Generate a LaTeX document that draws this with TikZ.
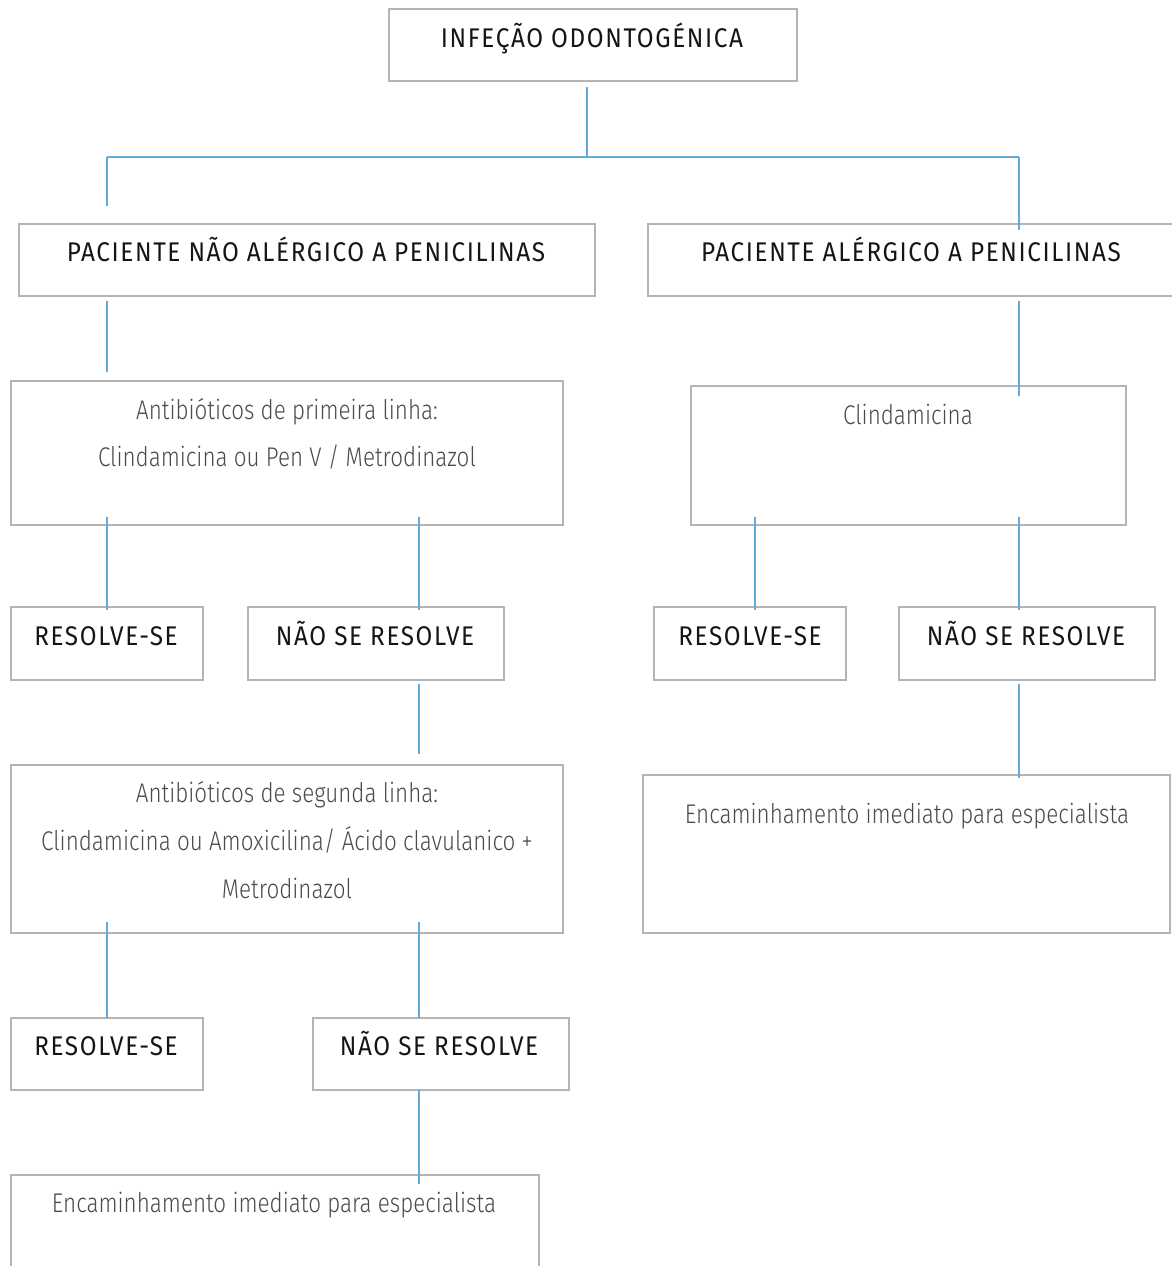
\documentclass[tikz,border=0pt]{standalone}
\usepackage{fontspec}
\newfontfamily\capf[FakeStretch=0.9,LetterSpace=6]{Fira Sans}
\newfontfamily\lightf[FakeStretch=0.83,UprightFont={* Light}]{Fira Sans}
\definecolor{boxgray}{HTML}{B4B4B4}
\definecolor{linkblue}{HTML}{62A9DC}
\definecolor{capcol}{HTML}{151515}
\definecolor{txtcol}{HTML}{4A4A4A}
\tikzset{
  x=1pt,y=-1pt,
  frame/.style={draw=boxgray,line width=2.2pt,rectangle,inner sep=0pt},
  captxt/.style={font=\capf\fontsize{27}{32}\selectfont,text=capcol,inner sep=0pt,anchor=base},
  lighttxt/.style={font=\lightf\fontsize{27}{32}\selectfont,text=txtcol,inner sep=0pt,anchor=base},
  link/.style={draw=linkblue,line width=2pt}
}
\newcommand{\mybox}[5]{\node[frame,minimum width={#4-#2},minimum height={#5-#3}] (#1) at ({(#2+#4)/2},{(#3+#5)/2}) {};}
\begin{document}
\begin{tikzpicture}
\useasboundingbox (0,0) rectangle (1172,1266);
\begin{scope}
\clip (0,0) rectangle (1172,1266);
% boxes
\mybox{top}{389}{9}{797}{81}
\mybox{lA}{19}{224}{595}{296}
\mybox{rA}{648}{224}{1190}{296}
\mybox{lB}{11}{381}{563}{525}
\mybox{rB}{691}{386}{1126}{525}
\mybox{lC1}{11}{607}{203}{680}
\mybox{lC2}{248}{607}{504}{680}
\mybox{rC1}{654}{607}{846}{680}
\mybox{rC2}{899}{607}{1155}{680}
\mybox{lD}{11}{765}{563}{933}
\mybox{rD}{643}{775}{1170}{933}
\mybox{lE1}{11}{1018}{203}{1090}
\mybox{lE2}{313}{1018}{569}{1090}
\mybox{lF}{11}{1175}{539}{1300}
\end{scope}
% texts (positions are baselines)
\node[captxt] (ttop) at (592,47) {INFEÇÃO ODONTOGÉNICA};
\node[captxt] (tlA) at (306,261) {PACIENTE NÃO ALÉRGICO A PENICILINAS};
\node[captxt] (trA) at (911,261) {PACIENTE ALÉRGICO A PENICILINAS};
\node[lighttxt] (tlB1) at (287,419) {Antibióticos de primeira linha:};
\node[lighttxt] (tlB2) at (287,466) {Clindamicina ou Pen V / Metrodinazol};
\node[lighttxt] (trB) at (908,424) {Clindamicina};
\node[captxt] (tlC1) at (106,645) {RESOLVE-SE};
\node[captxt] (tlC2) at (375,645) {NÃO SE RESOLVE};
\node[captxt] (trC1) at (750,645) {RESOLVE-SE};
\node[captxt] (trC2) at (1026,645) {NÃO SE RESOLVE};
\node[lighttxt] (tlD1) at (287,802) {Antibióticos de segunda linha:};
\node[lighttxt] (tlD2) at (287,850) {Clindamicina ou Amoxicilina/ Ácido clavulanico +};
\node[lighttxt] (tlD3) at (287,898) {Metrodinazol};
\node[lighttxt] (trD) at (907,823) {Encaminhamento imediato para especialista};
\node[captxt] (tlE1) at (106,1055) {RESOLVE-SE};
\node[captxt] (tlE2) at (439,1055) {NÃO SE RESOLVE};
\node[lighttxt] (tlF) at (274,1212) {Encaminhamento imediato para especialista};
% connector points
\coordinate (a0) at (587,87);
\coordinate (a1) at (587,157);
\coordinate (aL) at (107,157);
\coordinate (aR) at (1019,157);
\coordinate (aLe) at (107,206);
\coordinate (aRe) at (1019,230);
\coordinate (b0) at (107,301);
\coordinate (b1) at (107,372);
\coordinate (c0) at (1019,301);
\coordinate (c1) at (1019,396);
\coordinate (d0) at (107,517);
\coordinate (d1) at (107,610);
\coordinate (e0) at (419,517);
\coordinate (e1) at (419,610);
\coordinate (f0) at (755,517);
\coordinate (f1) at (755,610);
\coordinate (g0) at (1019,517);
\coordinate (g1) at (1019,610);
\coordinate (h0) at (419,684);
\coordinate (h1) at (419,754);
\coordinate (i0) at (1019,684);
\coordinate (i1) at (1019,778);
\coordinate (j0) at (107,922);
\coordinate (j1) at (107,1018);
\coordinate (k0) at (419,922);
\coordinate (k1) at (419,1018);
\coordinate (l0) at (419,1090);
\coordinate (l1) at (419,1184);
\draw[link] (a0) -- (a1);
\draw[link] (aL) -- (aR);
\draw[link] (aL) -- (aLe);
\draw[link] (aR) -- (aRe);
\draw[link] (b0) -- (b1);
\draw[link] (c0) -- (c1);
\draw[link] (d0) -- (d1);
\draw[link] (e0) -- (e1);
\draw[link] (f0) -- (f1);
\draw[link] (g0) -- (g1);
\draw[link] (h0) -- (h1);
\draw[link] (i0) -- (i1);
\draw[link] (j0) -- (j1);
\draw[link] (k0) -- (k1);
\draw[link] (l0) -- (l1);
\end{tikzpicture}
\end{document}
